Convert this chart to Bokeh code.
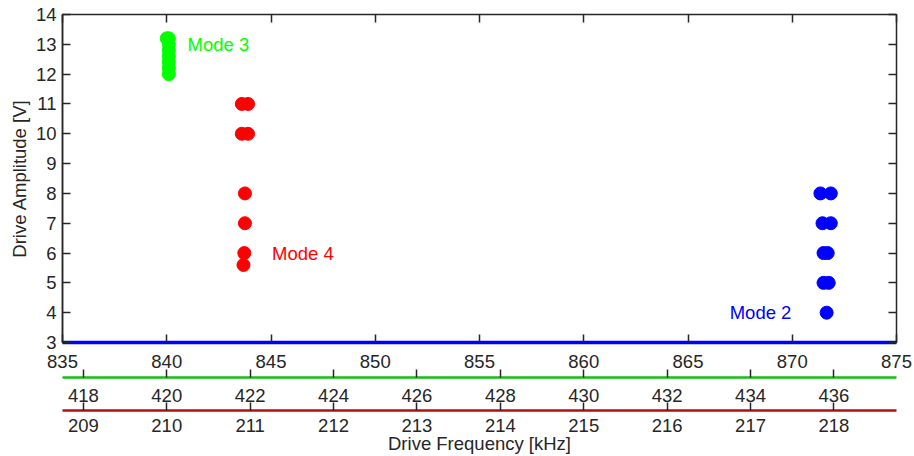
from bokeh.plotting import figure
from bokeh.models import LinearAxis, Range1d, FixedTicker, CustomJSTickFormatter
from bokeh.embed import file_html
from bokeh.resources import INLINE
from bokeh.core.properties import value

# ---- data ----
mode3_freq = [840.1, 840.1, 840.1, 840.1, 840.1, 840.1, 840.0, 840.1]
mode3_amp = [12.0, 12.2, 12.4, 12.6, 12.8, 13.0, 13.2, 13.2]

mode4_freq = [843.6, 843.9, 843.6, 843.9, 843.75, 843.75, 843.72, 843.68]
mode4_amp = [11, 11, 10, 10, 8, 7, 6, 5.6]

mode2_freq = [871.35, 871.85, 871.45, 871.85, 871.5, 871.7, 871.5, 871.75, 871.65]
mode2_amp = [8, 8, 7, 7, 6, 6, 5, 5, 4]

labels = ["Mode 3", "Mode 4", "Mode 2"]
label_x = [841.0, 845.05, 867.0]
label_y = [13.0, 6.0, 4.0]
label_colors = ["#00ff00", "#ff0000", "#0000ff"]

main_ticks = [835, 840, 845, 850, 855, 860, 865, 870, 875]
half_ticks = [418, 420, 422, 424, 426, 428, 430, 432, 434, 436]
quarter_ticks = [209, 210, 211, 212, 213, 214, 215, 216, 217, 218]
y_ticks = [3, 4, 5, 6, 7, 8, 9, 10, 11, 12, 13, 14]

FONT = "Liberation Sans"
FS = "18.5px"
DARK = "#262626"

p = figure(frame_width=834, frame_height=328,
           x_range=Range1d(835, 875), y_range=Range1d(3, 14),
           output_backend="svg", toolbar_location=None,
           min_border_left=62, min_border_top=14, min_border_right=18,
           min_border_bottom=114)
p.extra_x_ranges = {"half": Range1d(835 / 2, 875 / 2),
                    "quarter": Range1d(835 / 4, 875 / 4)}

p.grid.visible = False
p.outline_line_color = DARK
p.outline_line_width = 1.5
p.background_fill_color = "white"
p.border_fill_color = "white"


def style(ax):
    ax.major_label_text_font = FONT
    ax.major_label_text_font_size = FS
    ax.major_label_text_color = DARK
    ax.axis_label_text_font = FONT
    ax.axis_label_text_font_size = FS
    ax.axis_label_text_color = DARK
    ax.axis_label_text_font_style = "normal"
    ax.major_tick_in = 8
    ax.major_tick_out = 0
    ax.minor_tick_line_color = None
    ax.major_tick_line_color = DARK
    ax.major_tick_line_width = 1.5


# main x axis (blue)
xa = p.xaxis[0]
style(xa)
xa.ticker = FixedTicker(ticks=main_ticks)
xa.axis_line_color = "#0000ff"
xa.axis_line_width = 3.5
xa.major_label_standoff = 12
xa.axis_label = " "
xa.axis_label_text_font_size = "1px"
xa.axis_label_standoff = 3

# green axis (f/2)
ga = LinearAxis(x_range_name="half", ticker=FixedTicker(ticks=half_ticks))
style(ga)
ga.axis_line_color = "#10c010"
ga.axis_line_width = 2.5
ga.major_label_standoff = 11
ga.axis_label = " "
ga.axis_label_text_font_size = "1px"
ga.axis_label_standoff = 2
p.add_layout(ga, "below")

# red axis (f/4)
ra = LinearAxis(x_range_name="quarter", ticker=FixedTicker(ticks=quarter_ticks),
                axis_label="Drive Frequency [kHz]")
style(ra)
ra.axis_line_color = "#b01010"
ra.axis_line_width = 2.5
ra.major_label_standoff = 8
ra.axis_label_standoff = -2
p.add_layout(ra, "below")

# y axis
ya = p.yaxis[0]
style(ya)
ya.ticker = FixedTicker(ticks=y_ticks)
ya.axis_line_color = DARK
ya.axis_line_width = 1.5
ya.major_label_standoff = 6
ya.axis_label = "Drive Amplitude [V]"
ya.axis_label_standoff = 3

blank = CustomJSTickFormatter(code="return ''")
ta = LinearAxis(ticker=FixedTicker(ticks=main_ticks), formatter=blank)
style(ta)
ta.axis_line_color = DARK
ta.major_label_standoff = 0
p.add_layout(ta, "above")

rya = LinearAxis(ticker=FixedTicker(ticks=y_ticks), formatter=blank)
style(rya)
rya.axis_line_color = DARK
rya.major_label_standoff = 0
p.add_layout(rya, "right")

# points
p.scatter(mode3_freq, mode3_amp, size=13, marker="circle",
          fill_color="#00ff00", line_color="#00ff00")
p.scatter(mode4_freq, mode4_amp, size=13, marker="circle",
          fill_color="#ff0000", line_color="#ff0000")
p.scatter(mode2_freq, mode2_amp, size=13, marker="circle",
          fill_color="#0000ff", line_color="#0000ff")

for t, x, y, c in zip(labels, label_x, label_y, label_colors):
    p.text(x=[x], y=[y], text=[t], text_color=c, text_font=value(FONT),
           text_font_size=FS, text_baseline="middle", text_align="left")

open("out.html", "w").write(file_html(p, INLINE))
